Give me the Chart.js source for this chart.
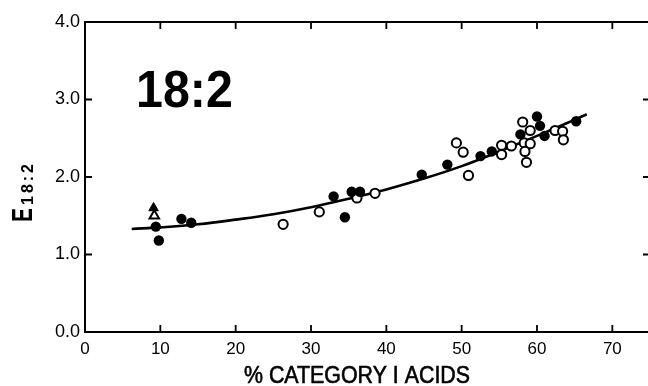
<!DOCTYPE html>
<html><head><meta charset="utf-8">
<script src="https://cdn.jsdelivr.net/npm/chart.js@4.4.1/dist/chart.umd.min.js"></script>
<style>
html,body{margin:0;padding:0;background:#fff;overflow:hidden;width:648px;height:386px}
#wrap{position:absolute;left:0;top:0;width:650px;height:386px}
</style>
</head><body><div id="wrap"><canvas id="c" width="650" height="386"></canvas></div>
<script>
// ---- data ----
const xTicks = [0, 10, 20, 30, 40, 50, 60, 70];
const yTicks = [0, 1, 2, 3, 4];

const filledX = [9.4, 9.8, 12.8, 14.1, 33.0, 34.5, 35.4, 36.5, 44.7, 48.1, 52.5, 54.0, 57.8, 60.0, 60.4, 61.0, 65.2];
const filledY = [1.36, 1.18, 1.46, 1.41, 1.75, 1.48, 1.81, 1.81, 2.03, 2.16, 2.27, 2.33, 2.55, 2.78, 2.66, 2.53, 2.72];

const openX = [26.3, 31.1, 36.1, 38.5, 49.3, 50.2, 50.9, 55.3, 55.3, 56.6, 58.1, 59.1, 58.3, 59.1, 58.4, 58.6, 62.4, 63.4, 63.5];
const openY = [1.39, 1.55, 1.73, 1.79, 2.44, 2.32, 2.02, 2.41, 2.29, 2.40, 2.71, 2.60, 2.44, 2.43, 2.33, 2.19, 2.60, 2.59, 2.48];

const triFilledX = [9.1];
const triFilledY = [1.60];
const triOpenX = [9.2];
const triOpenY = [1.50];

const curveX = [6.2, 10, 15, 20, 25, 30, 35, 40, 45, 50, 55, 60, 65, 66.6];
const curveY = [1.33, 1.35, 1.39, 1.45, 1.52, 1.61, 1.72, 1.84, 1.98, 2.14, 2.33, 2.53, 2.74, 2.81];

const panelLabel = '18:2';
const xTitle = '% CATEGORY I ACIDS';
const yTitleMain = 'E';
const yTitleSub = '18:2';

const pts = (xs, ys) => xs.map((x, i) => ({x: x, y: ys[i]}));
const FONT = 'Liberation Sans';

const framePlugin = {
  id: 'frame',
  beforeDatasetsDraw(chart) {
    const {ctx, chartArea: a, scales: {x, y}} = chart;
    ctx.save();
    ctx.strokeStyle = '#000';
    ctx.lineWidth = 2;
    ctx.strokeRect(a.left, a.top, a.right - a.left, a.bottom - a.top);
    const L = 7;
    ctx.lineWidth = 1.8;
    ctx.beginPath();
    xTicks.forEach(v => {
      if (v === 0) return;
      const px = x.getPixelForValue(v);
      ctx.moveTo(px, a.bottom); ctx.lineTo(px, a.bottom - L);
      ctx.moveTo(px, a.top); ctx.lineTo(px, a.top + L);
    });
    yTicks.forEach(v => {
      if (v === 0 || v === 4) return;
      const py = y.getPixelForValue(v);
      ctx.moveTo(a.left, py); ctx.lineTo(a.left + L, py);
      ctx.moveTo(a.right, py); ctx.lineTo(a.right - L, py);
    });
    ctx.stroke();
    ctx.restore();
  },
  afterDraw(chart) {
    const {ctx} = chart;
    ctx.save();
    ctx.fillStyle = '#000';
    // panel label
    ctx.font = 'bold 52px ' + FONT;
    ctx.textBaseline = 'alphabetic';
    ctx.save();
    ctx.translate(136, 107);
    ctx.scale(0.93, 1);
    ctx.fillText(panelLabel, 0, 0);
    ctx.restore();
    // x title
    ctx.font = '23px ' + FONT;
    const w = ctx.measureText(xTitle).width;
    ctx.save();
    ctx.translate(244, 383);
    ctx.scale(226 / w, 1);
    ctx.lineWidth = 0.6;
    ctx.strokeStyle = '#000';
    ctx.fillText(xTitle, 0, 0);
    ctx.strokeText(xTitle, 0, 0);
    ctx.restore();
    // y title (rotated)
    ctx.save();
    ctx.translate(32, 222);
    ctx.rotate(-Math.PI / 2);
    ctx.save();
    ctx.scale(0.72, 1);
    ctx.font = 'bold 29px ' + FONT;
    ctx.fillText(yTitleMain, 0, 0);
    ctx.restore();
    ctx.font = 'bold 16px ' + FONT;
    ctx.letterSpacing = '3px';
    ctx.fillText(yTitleSub, 17, 1);
    ctx.restore();
    ctx.restore();
  }
};

new Chart(document.getElementById('c'), {
  type: 'scatter',
  data: {
    datasets: [
      {data: pts(filledX, filledY), pointStyle: 'circle', pointRadius: 5.2, backgroundColor: '#000', borderColor: '#000', borderWidth: 0},
      {data: pts(openX, openY), pointStyle: 'circle', pointRadius: 4.6, backgroundColor: '#fff', borderColor: '#000', borderWidth: 2},
      {data: pts(triFilledX, triFilledY), pointStyle: 'triangle', pointRadius: 5.5, backgroundColor: '#000', borderColor: '#000', borderWidth: 1},
      {data: pts(triOpenX, triOpenY), pointStyle: 'triangle', pointRadius: 5.5, backgroundColor: '#fff', borderColor: '#000', borderWidth: 2},
      {data: pts(curveX, curveY), showLine: true, pointRadius: 0, borderColor: '#000', borderWidth: 2.6, tension: 0.4, fill: false}
    ]
  },
  options: {
    responsive: false,
    animation: false,
    events: [],
    layout: {autoPadding: false, padding: {top: 22, right: 0, left: 0, bottom: 0}},
    plugins: {legend: {display: false}, tooltip: {enabled: false}},
    scales: {
      x: {
        type: 'linear', min: 0, max: 75,
        afterBuildTicks: s => { s.ticks = xTicks.map(v => ({value: v})); },
        afterFit: s => { s.height = 54; s.paddingLeft = 0; s.paddingRight = 0; },
        grid: {display: false, drawTicks: false},
        border: {display: false},
        ticks: {color: '#000', font: {family: FONT, size: 17}, padding: 7, maxRotation: 0, autoSkip: false}
      },
      y: {
        type: 'linear', min: 0, max: 4,
        afterBuildTicks: s => { s.ticks = yTicks.map(v => ({value: v})); },
        afterFit: s => { s.width = 85; s.paddingTop = 0; s.paddingBottom = 0; },
        grid: {display: false, drawTicks: false},
        border: {display: false},
        ticks: {color: '#000', font: {family: FONT, size: 18}, padding: 5, callback: v => v.toFixed(1)}
      }
    }
  },
  plugins: [framePlugin]
});
</script>
</body></html>
